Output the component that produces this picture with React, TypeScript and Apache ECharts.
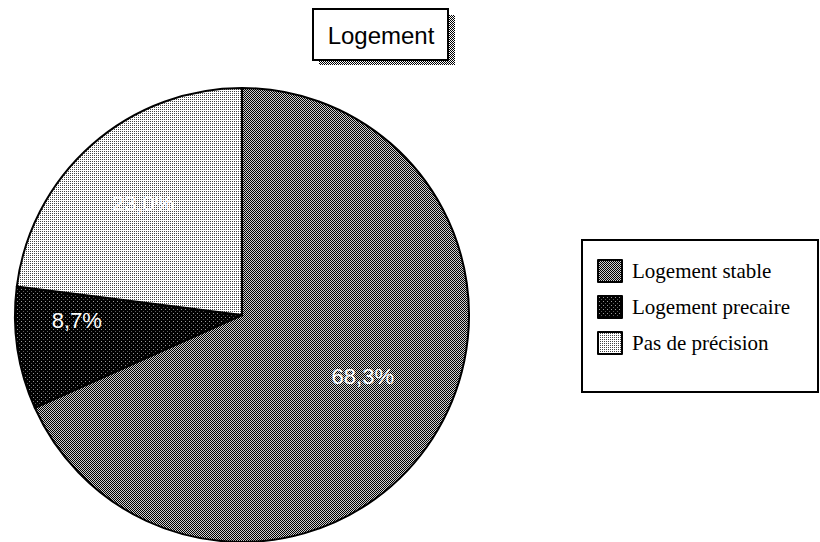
import React, { useEffect, useRef } from "react";
import * as echarts from "echarts";

const categories = ["Logement stable", "Logement precaire", "Pas de précision"];
const values = [68.3, 8.7, 23.0];
const valueLabels = ["68,3%", "8,7%", "23,0%"];
const titleText = "Logement";

function makePattern(cells: string[][]) {
  const h = cells.length;
  const w = cells[0].length;
  const c = document.createElement("canvas");
  c.width = w;
  c.height = h;
  const ctx = c.getContext("2d")!;
  for (let y = 0; y < h; y++) {
    for (let x = 0; x < w; x++) {
      ctx.fillStyle = cells[y][x];
      ctx.fillRect(x, y, 1, 1);
    }
  }
  return { image: c, repeat: "repeat", imageWidth: w, imageHeight: h } as any;
}

export default function App() {
  const ref = useRef<HTMLDivElement>(null);
  useEffect(() => {
    if (!ref.current) return;
    const chart = echarts.init(ref.current, undefined, { renderer: "svg" });
    const K = "#000000";
    const W = "#ffffff";
    const G = "#cfcfcf";
    const stablePat = makePattern([
      [K, G],
      [G, K],
    ]);
    const precPat = makePattern([
      [K, K, K, K],
      [K, "#9a9a9a", K, K],
      [K, K, K, K],
      [K, K, K, "#5a5a5a"],
    ]);
    const pasPat = makePattern([
      [W, W],
      ["#444444", W],
    ]);
    const shadowPat = makePattern([
      [K, W],
      [W, K],
    ]);
    const colors = [stablePat, precPat, pasPat];
    const offsets = [
      [23, -2],
      [-50, -12],
      [-22, -24],
    ];
    const data = categories.map((name, i) => ({
      name,
      value: values[i],
      itemStyle: { color: colors[i] },
      label: { offset: offsets[i], formatter: valueLabels[i] },
    }));
    chart.setOption({
      animation: false,
      backgroundColor: "#ffffff",
      graphic: [
        {
          type: "rect",
          shape: { x: 319, y: 15, width: 136, height: 50 },
          style: { fill: shadowPat },
          z: 1,
        },
        {
          type: "rect",
          shape: { x: 313, y: 9, width: 135, height: 51 },
          style: { fill: "#ffffff", stroke: "#000", lineWidth: 2 },
          z: 2,
        },
        {
          type: "text",
          x: 381,
          y: 35,
          style: {
            text: titleText,
            fontFamily: "Liberation Sans, Arial, sans-serif",
            fontSize: 24,
            fill: "#000",
            align: "center",
            verticalAlign: "middle",
          },
          z: 3,
        },
        {
          type: "rect",
          shape: { x: 582, y: 240, width: 236, height: 152 },
          style: { fill: "#ffffff", stroke: "#000", lineWidth: 2 },
          z: 0,
        },
      ],
      legend: {
        orient: "vertical",
        left: 597,
        top: 259,
        padding: 0,
        itemWidth: 24,
        itemHeight: 22,
        itemGap: 12,
        icon: "rect",
        data: categories,
        textStyle: {
          fontFamily: "Liberation Serif, Times New Roman, serif",
          fontSize: 21,
          color: "#000",
          padding: [0, 0, 0, 5],
        },
        z: 5,
      },
      series: [
        {
          type: "pie",
          center: [242, 315],
          radius: 227,
          startAngle: 90,
          clockwise: true,
          avoidLabelOverlap: false,
          itemStyle: { borderColor: "#000", borderWidth: 2 },
          label: {
            show: true,
            position: "inside",
            color: "#ffffff",
            fontFamily: "Liberation Sans, Arial, sans-serif",
            fontSize: 22,
          },
          labelLine: { show: false },
          emphasis: { disabled: true },
          data,
        },
      ],
    });
    return () => chart.dispose();
  }, []);
  return (
    <div
      ref={ref}
      style={{ position: "fixed", left: 0, top: 0, width: 820, height: 542 }}
    />
  );
}
